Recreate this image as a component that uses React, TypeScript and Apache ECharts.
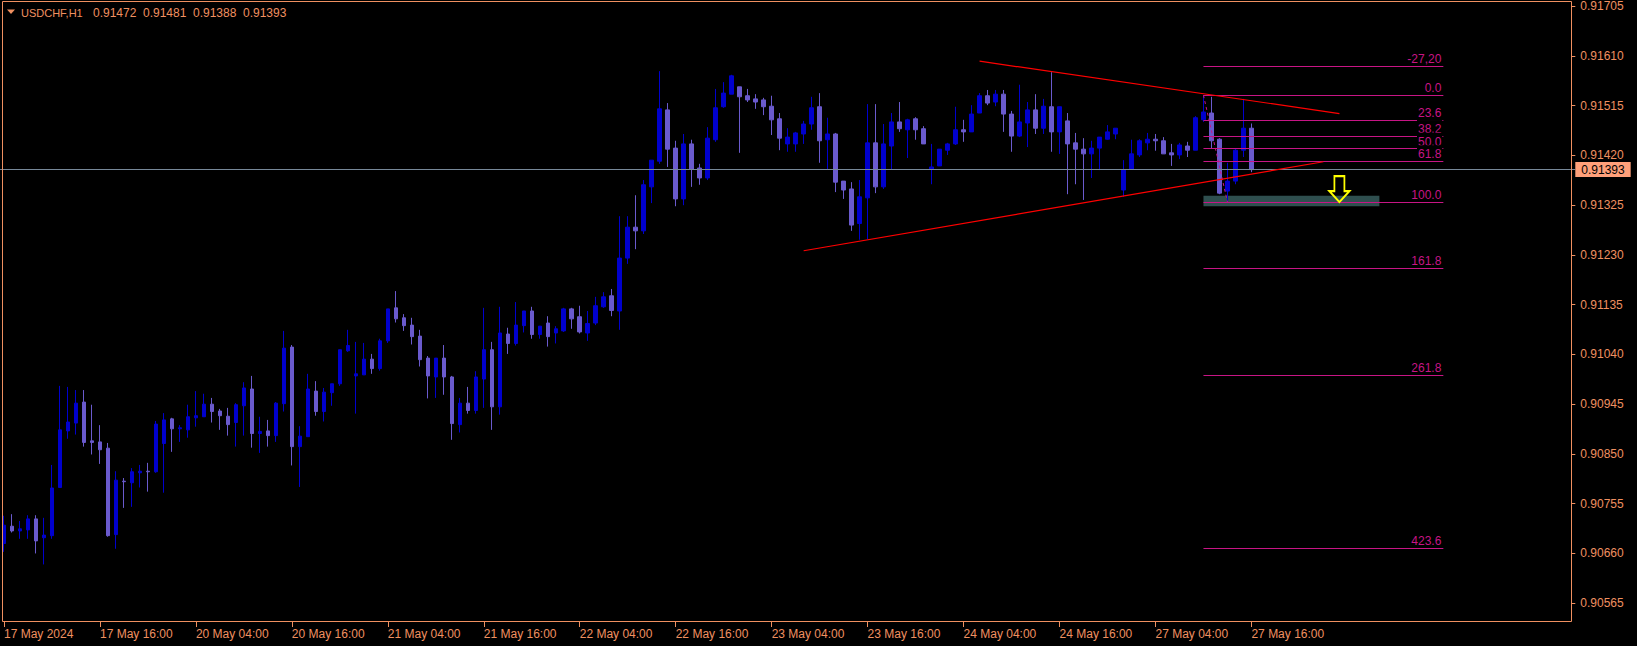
import React, { useEffect, useRef } from "react";
import * as echarts from "echarts";

// ---------- data ----------
const symbolName = "USDCHF,H1";
const headerValues = ["0.91472", "0.91481", "0.91388", "0.91393"];

const sessionDays = ["17 May", "20 May", "21 May", "22 May", "23 May", "24 May", "27 May"];
const sessionFirstHour = [4, 0, 0, 0, 0, 0, 0];
const sessionLastHour = [23, 23, 23, 23, 23, 23, 16];
const futureSlots = 40;

const xTickLabels = [
  "17 May 2024", "17 May 16:00", "20 May 04:00", "20 May 16:00", "21 May 04:00",
  "21 May 16:00", "22 May 04:00", "22 May 16:00", "23 May 04:00", "23 May 16:00",
  "24 May 04:00", "24 May 16:00", "27 May 04:00", "27 May 16:00",
];

const yTicks = [
  0.90565, 0.9066, 0.90755, 0.9085, 0.90945, 0.9104, 0.91135,
  0.9123, 0.91325, 0.9142, 0.91515, 0.9161, 0.91705,
];

const opens = [
  0.90679, 0.90712, 0.90703, 0.90705, 0.90726, 0.9069, 0.90694, 0.90786, 0.90894, 0.90909,
  0.90949, 0.90875, 0.90873, 0.90861, 0.90696, 0.90798, 0.90795, 0.90814, 0.90817, 0.90816,
  0.9087, 0.90917, 0.90898, 0.90896, 0.90919, 0.90921, 0.90945, 0.90932, 0.90922, 0.9091,
  0.90942, 0.90974, 0.90889, 0.90894, 0.90885, 0.90946, 0.91054, 0.90864, 0.90883, 0.9097,
  0.90931, 0.90967, 0.90984, 0.91047, 0.90999, 0.91001, 0.91031, 0.91013, 0.91066, 0.91129,
  0.9111, 0.91096, 0.91075, 0.91033, 0.90997, 0.91033, 0.90997, 0.90906, 0.90947, 0.90933,
  0.90993, 0.91049, 0.9094, 0.91079, 0.91061, 0.91095, 0.91123, 0.91078, 0.911, 0.91081,
  0.91085, 0.91127, 0.91112, 0.91081, 0.911, 0.91131, 0.91152, 0.91123, 0.91224, 0.91283,
  0.91276, 0.9136, 0.91409, 0.91507, 0.91434, 0.91337, 0.91442, 0.91396, 0.91377, 0.9145,
  0.91513, 0.91537, 0.91551, 0.91534, 0.91528, 0.91526, 0.91514, 0.9149, 0.91442, 0.91442,
  0.91461, 0.9148, 0.91513, 0.9145, 0.91461, 0.91371, 0.91356, 0.9129, 0.91339, 0.91444,
  0.9136, 0.91438, 0.91484, 0.91469, 0.9149, 0.91471, 0.91394, 0.914, 0.9143, 0.91442,
  0.91469, 0.91465, 0.91501, 0.91534, 0.91522, 0.91537, 0.91499, 0.91457, 0.91482, 0.91507,
  0.91472, 0.91513, 0.91465, 0.91486, 0.91444, 0.91432, 0.91423, 0.91434, 0.91451, 0.91461,
  0.91354, 0.91394, 0.91421, 0.91444, 0.91451, 0.91448, 0.91425, 0.91421, 0.91438, 0.9143,
  0.91488, 0.91501, 0.91451, 0.91352, 0.91371, 0.9143, 0.91472,
];
const closes = [
  0.90714, 0.90703, 0.90707, 0.90726, 0.90684, 0.90695, 0.90785, 0.90896, 0.90911, 0.90947,
  0.90872, 0.90872, 0.90858, 0.90694, 0.908, 0.90797, 0.90816, 0.90817, 0.90816, 0.90907,
  0.90915, 0.90898, 0.909, 0.90921, 0.90923, 0.90945, 0.90931, 0.90923, 0.90906, 0.90944,
  0.90976, 0.90889, 0.90893, 0.90885, 0.90947, 0.91052, 0.90864, 0.90884, 0.90974, 0.90931,
  0.90968, 0.90984, 0.91049, 0.91057, 0.91003, 0.91031, 0.91013, 0.91066, 0.91127, 0.91108,
  0.91095, 0.91074, 0.9103, 0.90999, 0.91033, 0.90997, 0.90908, 0.90947, 0.90933, 0.90997,
  0.91049, 0.9094, 0.91081, 0.91061, 0.91096, 0.91123, 0.91078, 0.91094, 0.91074, 0.91089,
  0.91127, 0.91108, 0.91083, 0.91099, 0.91133, 0.9115, 0.91124, 0.91224, 0.91283, 0.91276,
  0.91364, 0.91411, 0.91509, 0.91432, 0.91337, 0.91442, 0.91394, 0.91377, 0.91453, 0.91511,
  0.91539, 0.91572, 0.91532, 0.91526, 0.91522, 0.91513, 0.91488, 0.91453, 0.91455, 0.91463,
  0.9148, 0.91511, 0.91448, 0.91461, 0.91369, 0.91354, 0.91287, 0.91341, 0.91444, 0.9136,
  0.91442, 0.91484, 0.91471, 0.91488, 0.91469, 0.91442, 0.91398, 0.91432, 0.91442, 0.91469,
  0.91465, 0.91499, 0.91534, 0.9152, 0.91537, 0.91499, 0.91457, 0.91484, 0.91507, 0.91472,
  0.91514, 0.91465, 0.91513, 0.91442, 0.91432, 0.91423, 0.91434, 0.91455, 0.91465, 0.91472,
  0.91392, 0.91423, 0.91448, 0.91451, 0.91448, 0.91423, 0.91421, 0.9144, 0.9143, 0.91492,
  0.91503, 0.91448, 0.91348, 0.91371, 0.9143, 0.91472, 0.91393,
];
const lows = [
  0.90663, 0.907, 0.90688, 0.90688, 0.9066, 0.90639, 0.90688, 0.90786, 0.90879, 0.90887,
  0.90864, 0.90849, 0.90831, 0.90692, 0.90669, 0.90747, 0.90749, 0.90786, 0.90778, 0.90814,
  0.90776, 0.90854, 0.90873, 0.90881, 0.90902, 0.90921, 0.9091, 0.90896, 0.90885, 0.90864,
  0.90885, 0.90862, 0.90852, 0.90864, 0.90873, 0.90931, 0.90828, 0.90787, 0.90883, 0.90923,
  0.90912, 0.90942, 0.9098, 0.91045, 0.90927, 0.91001, 0.91003, 0.91009, 0.91062, 0.91101,
  0.91085, 0.91059, 0.91017, 0.90956, 0.90957, 0.90963, 0.90877, 0.90891, 0.90927, 0.90927,
  0.90938, 0.90896, 0.90925, 0.91041, 0.91057, 0.91082, 0.9107, 0.9107, 0.91055, 0.91061,
  0.91083, 0.91089, 0.9108, 0.91066, 0.91096, 0.91129, 0.91113, 0.91087, 0.91213, 0.91241,
  0.9127, 0.91329, 0.91404, 0.91398, 0.91323, 0.91325, 0.9136, 0.91364, 0.91373, 0.91446,
  0.91511, 0.91537, 0.91425, 0.91522, 0.91509, 0.91497, 0.91459, 0.9143, 0.91427, 0.91427,
  0.91442, 0.91469, 0.91406, 0.91394, 0.9135, 0.91337, 0.91276, 0.91259, 0.9126, 0.91348,
  0.91356, 0.91394, 0.91465, 0.91415, 0.9145, 0.91442, 0.91365, 0.914, 0.91421, 0.9144,
  0.91446, 0.91465, 0.91501, 0.91516, 0.91514, 0.91465, 0.91427, 0.91455, 0.91436, 0.91461,
  0.91461, 0.91427, 0.91423, 0.91346, 0.91365, 0.91335, 0.91377, 0.91392, 0.9145, 0.91451,
  0.91341, 0.91394, 0.91417, 0.9143, 0.91429, 0.91423, 0.914, 0.91413, 0.91417, 0.9143,
  0.91484, 0.91434, 0.91346, 0.91331, 0.91365, 0.91417, 0.91388,
];
const highs = [
  0.90732, 0.90735, 0.90722, 0.90733, 0.90733, 0.90728, 0.90829, 0.9098, 0.90978, 0.90972,
  0.90972, 0.90944, 0.90905, 0.90871, 0.90817, 0.90804, 0.90823, 0.90829, 0.90833, 0.90913,
  0.90928, 0.90919, 0.90905, 0.90944, 0.9097, 0.90965, 0.90957, 0.90936, 0.90938, 0.90947,
  0.90987, 0.90999, 0.90921, 0.90915, 0.90949, 0.91085, 0.91058, 0.90903, 0.91003, 0.90989,
  0.90976, 0.90984, 0.91049, 0.91087, 0.91064, 0.91062, 0.91041, 0.9107, 0.91127, 0.91161,
  0.91117, 0.9111, 0.91087, 0.91037, 0.91033, 0.91058, 0.90999, 0.90957, 0.90978, 0.91008,
  0.91129, 0.91064, 0.91131, 0.91091, 0.9114, 0.91123, 0.91131, 0.91094, 0.91113, 0.91094,
  0.91129, 0.91129, 0.91133, 0.91123, 0.9115, 0.91159, 0.91165, 0.91304, 0.91304, 0.91344,
  0.91373, 0.91411, 0.91581, 0.9152, 0.91448, 0.91461, 0.9145, 0.91404, 0.91474, 0.91547,
  0.9156, 0.91574, 0.91551, 0.91547, 0.91537, 0.9153, 0.91534, 0.91501, 0.91472, 0.91465,
  0.91486, 0.91532, 0.91539, 0.91492, 0.91463, 0.91371, 0.91369, 0.91373, 0.91518, 0.91518,
  0.9148, 0.91501, 0.91522, 0.9149, 0.91493, 0.91476, 0.91442, 0.91432, 0.91444, 0.91513,
  0.91488, 0.91516, 0.91539, 0.91545, 0.91545, 0.91545, 0.91505, 0.91555, 0.91522, 0.91537,
  0.91528, 0.91579, 0.91513, 0.91501, 0.91463, 0.91453, 0.91448, 0.91455, 0.91478, 0.91472,
  0.91411, 0.9145, 0.91451, 0.91463, 0.91461, 0.91455, 0.91442, 0.91444, 0.91446, 0.91495,
  0.91535, 0.91532, 0.91453, 0.91406, 0.91434, 0.91528, 0.91481,
];

const lastPrice = 0.91393;

// Fibonacci retracement anchored on bar 150 high and bar 153 low
const fibHigh = 0.91535;
const fibLow = 0.91331;
const fibStartBar = 150;
const fibEndBar = 180;
const fibLevels = [-27.2, 0, 23.6, 38.2, 50, 61.8, 100, 161.8, 261.8, 423.6];
const fibLabels = ["-27,20", "0.0", "23.6", "38.2", "50.0", "61.8", "100.0", "161.8", "261.8", "423.6"];
const fibAnchorBars = [150, 153];

// trend lines [bar, price]
const upperTrend = [[122, 0.916], [167, 0.915]];
const lowerTrend = [[100, 0.91238], [165, 0.91408]];

// target zone
const zoneBars = [150, 172];
const zonePrices = [0.91343, 0.91323];
const arrowBar = 167;

// y range of the plot
const yMin = 0.905291;
const yMax = 0.91713;

// ---------- styles ----------
const FG = "#F09060";
const FONT = "Liberation Sans";
const BULL = "#0000CD";
const BEAR = "#6A5ACD";
const FIB = "#C71585";

export default function App() {
  const ref = useRef<HTMLDivElement>(null);

  useEffect(() => {
    document.body.style.margin = "0";
    document.body.style.background = "#000";
    const el = ref.current;
    if (!el) return;
    const chart = echarts.init(el, null, { renderer: "svg" });

    const categories: string[] = [];
    sessionDays.forEach((d, i) => {
      for (let h = sessionFirstHour[i]; h <= sessionLastHour[i]; h++) {
        categories.push(`${d} ${String(h).padStart(2, "0")}:00`);
      }
    });
    const barCount = categories.length;
    for (let i = 0; i < futureSlots; i++) categories.push(`future ${i + 1}`);

    const candleData = opens.map((o, i) => [o, closes[i], lows[i], highs[i]]);

    const tickInterval = (index: number) => index < barCount && index % 12 === 0;

    const fibPrice = (lvl: number) => fibHigh - (lvl / 100) * (fibHigh - fibLow);

    const fibLines = fibLevels.map((lvl, i) => [
      {
        coord: [fibStartBar, fibPrice(lvl)],
        lineStyle: { color: FIB, width: 1, type: "solid" },
        label: {
          show: true,
          position: "insideEndTop",
          formatter: fibLabels[i],
          color: FIB,
          fontFamily: FONT,
          fontSize: 12,
          backgroundColor: "#000",
          padding: [3, 1, 0, 1],
          distance: 1,
        },
      },
      { coord: [fibEndBar, fibPrice(lvl)] },
    ]);

    const option: any = {
      backgroundColor: "#000000",
      animation: false,
      textStyle: { fontFamily: FONT },
      grid: { left: -0.7, right: 61.7, top: 2, bottom: 24, containLabel: false },
      xAxis: {
        type: "category",
        data: categories,
        boundaryGap: true,
        axisLine: { show: false },
        axisTick: {
          show: true,
          alignWithLabel: true,
          length: 5,
          interval: tickInterval,
          lineStyle: { color: FG },
        },
        axisLabel: {
          interval: tickInterval,
          formatter: (_v: string, i: number) => xTickLabels[i / 12] ?? "",
          color: FG,
          fontFamily: FONT,
          fontSize: 12,
          align: "left",
          margin: 6,
        },
        splitLine: { show: false },
      },
      yAxis: {
        type: "value",
        position: "right",
        min: yMin,
        max: yMax,
        offset: -4,
        axisLine: { show: false },
        axisTick: { show: true, length: 4, customValues: yTicks, lineStyle: { color: FG } },
        axisLabel: {
          customValues: yTicks,
          formatter: (v: number) => v.toFixed(5),
          color: FG,
          fontFamily: FONT,
          fontSize: 12,
          margin: 9,
        },
        splitLine: { show: false },
      },
      series: [
        {
          // current price line
          type: "line",
          data: [],
          silent: true,
          markLine: {
            silent: true,
            precision: 6,
            symbol: ["none", "none"],
            data: [
              {
                yAxis: lastPrice,
                lineStyle: { color: "#778899", width: 1, type: "solid" },
                label: {
                  show: true,
                  position: "end",
                  formatter: lastPrice.toFixed(5),
                  color: "#000",
                  fontFamily: FONT,
                  fontSize: 12,
                  backgroundColor: "#FFA07A",
                  padding: [2, 6, 1, 6],
                  distance: 0,
                },
              },
            ],
          },
        },
        {
          type: "candlestick",
          data: candleData,
          barWidth: 4,
          itemStyle: {
            color: BULL,
            color0: BEAR,
            borderColor: BULL,
            borderColor0: BEAR,
            borderWidth: 1,
          },
          markArea: {
            silent: true,
            itemStyle: { color: "#2F4F4F", opacity: 1 },
            label: { show: false },
            data: [[{ coord: [zoneBars[0], zonePrices[0]] }, { coord: [zoneBars[1], zonePrices[1]] }]],
          },
          markLine: {
            silent: true,
            precision: 6,
            symbol: ["none", "none"],
            label: { show: false },
            data: [
              ...fibLines,
              [
                {
                  coord: [fibAnchorBars[0], fibHigh],
                  lineStyle: { color: FIB, width: 1, type: [3, 3] },
                },
                { coord: [fibAnchorBars[1], fibLow] },
              ],
              [
                { coord: upperTrend[0], lineStyle: { color: "#FF0000", width: 1.2, type: "solid" } },
                { coord: upperTrend[1] },
              ],
              [
                { coord: lowerTrend[0], lineStyle: { color: "#FF0000", width: 1.2, type: "solid" } },
                { coord: lowerTrend[1] },
              ],
            ],
          },
          markPoint: {
            silent: true,
            label: { show: false },
            data: [
              {
                coord: [arrowBar, fibLow],
                symbol: "path://M5,0 L15,0 L15,15 L20,15 L10,26 L0,15 L5,15 Z",
                symbolSize: [20, 26],
                symbolOffset: [0, "-50%"],
                itemStyle: { color: "rgba(0,0,0,0)", borderColor: "#FFFF00", borderWidth: 2 },
              },
            ],
          },
        },
      ],
      graphic: [
        {
          type: "rect",
          silent: true,
          z: 50,
          shape: { x: 2.5, y: 1.5, width: 1569, height: 620 },
          style: { fill: "none", stroke: FG, lineWidth: 1 },
        },
        {
          type: "polygon",
          silent: true,
          shape: { points: [[7, 9.5], [15, 9.5], [11, 14]] },
          style: { fill: FG },
        },
        {
          type: "text",
          silent: true,
          x: 21,
          y: 12.5,
          style: { text: symbolName, fill: FG, font: `11px "${FONT}"`, verticalAlign: "middle" },
        },
        ...headerValues.map((t, i) => ({
          type: "text",
          silent: true,
          x: 93 + i * 50,
          y: 12.5,
          style: { text: t, fill: FG, font: `12px "${FONT}"`, verticalAlign: "middle" },
        })),
      ],
    };

    chart.setOption(option);
    return () => chart.dispose();
  }, []);

  return (
    <div
      ref={ref}
      style={{ position: "fixed", left: 0, top: 0, width: 1637, height: 646, background: "#000" }}
    />
  );
}
